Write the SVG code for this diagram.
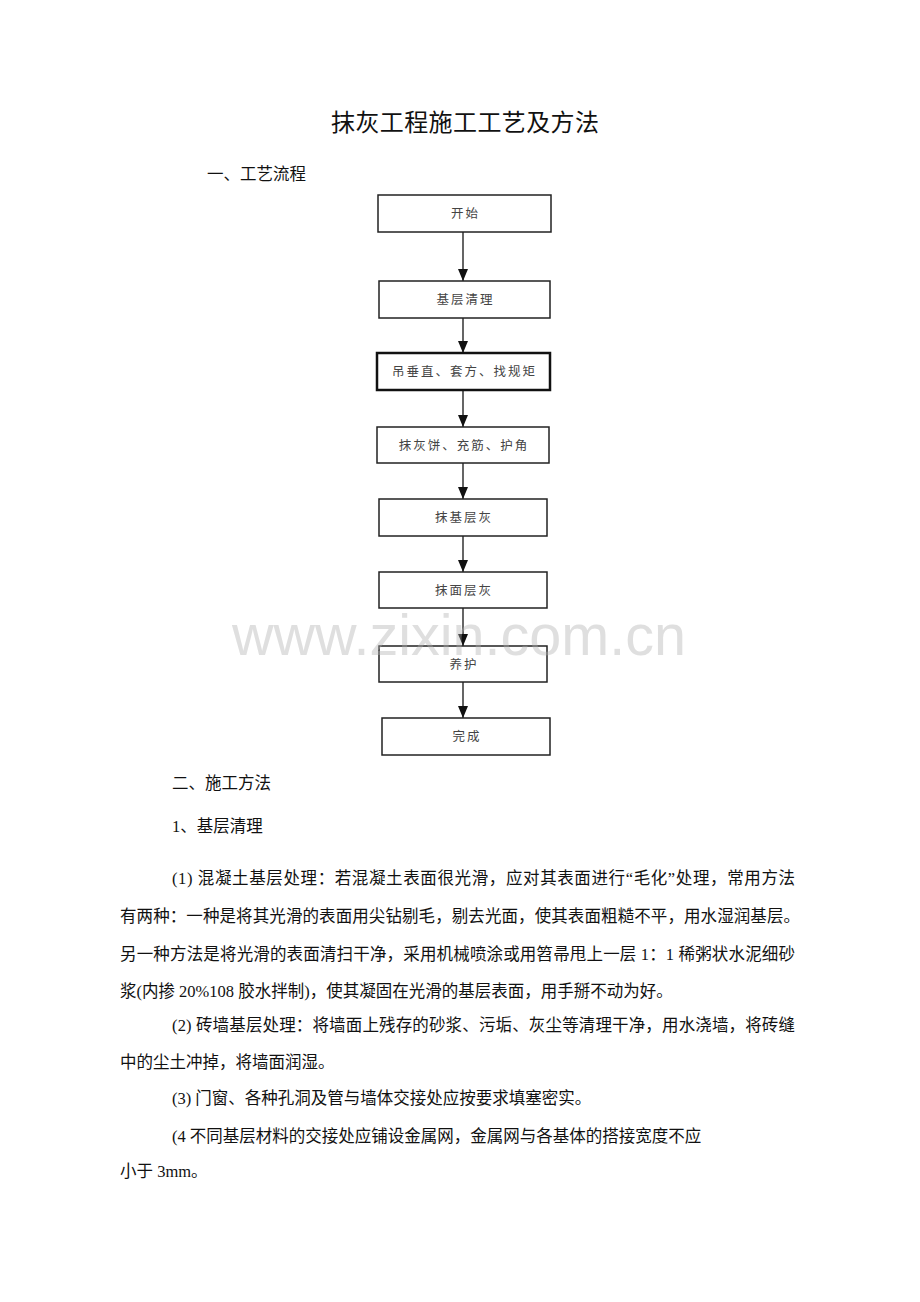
<svg xmlns="http://www.w3.org/2000/svg" width="920" height="1302" viewBox="0 0 920 1302">
<defs>
<style>
.title{font-family:"Liberation Serif","Noto Sans CJK SC",serif;font-size:24px;fill:#111;}
.body{font-family:"Liberation Serif","Noto Sans CJK SC",serif;font-size:16.5px;fill:#111;}
.box{fill:#fff;stroke:#222;stroke-width:1.5;}
.boxthick{fill:#fff;stroke:#111;stroke-width:2.5;}
.lbl{font-family:"Noto Sans CJK SC",sans-serif;font-size:12.5px;fill:#444;text-anchor:middle;letter-spacing:2px;}
.conn{stroke:#555;stroke-width:1.8;fill:none;}
.wm{font-family:"Liberation Sans",Arial,sans-serif;font-size:57px;fill:#b0b0b0;opacity:0.4;}
</style>
<marker id="ah" viewBox="0 0 12 10" refX="12" refY="5" markerWidth="12" markerHeight="10" markerUnits="userSpaceOnUse" orient="auto">
<path d="M0,0 L12,5 L0,10 Z" fill="#111"/>
</marker>
</defs>
<rect width="920" height="1302" fill="#fff"/>

<text class="title" x="465" y="131" text-anchor="middle" textLength="268">抹灰工程施工工艺及方法</text>
<text class="body" x="207" y="180">一、工艺流程</text>

<g id="connectors">
<line class="conn" x1="463" y1="232" x2="463" y2="281" marker-end="url(#ah)"/>
<line class="conn" x1="463" y1="318" x2="463" y2="353" marker-end="url(#ah)"/>
<line class="conn" x1="463" y1="390" x2="463" y2="427" marker-end="url(#ah)"/>
<line class="conn" x1="463" y1="463" x2="463" y2="499" marker-end="url(#ah)"/>
<line class="conn" x1="463" y1="536" x2="463" y2="572" marker-end="url(#ah)"/>
<line class="conn" x1="463" y1="608" x2="463" y2="646" marker-end="url(#ah)"/>
<line class="conn" x1="463" y1="682" x2="463" y2="718" marker-end="url(#ah)"/>
</g>

<g id="n1"><rect class="box" x="378" y="195" width="173" height="37"/><text class="lbl" x="465.5" y="218">开始</text></g>
<g id="n2"><rect class="box" x="379" y="281" width="171" height="37"/><text class="lbl" x="465.5" y="304">基层清理</text></g>
<g id="n3"><rect class="boxthick" x="377" y="353" width="173" height="37"/><text class="lbl" x="464.5" y="376">吊垂直、套方、找规矩</text></g>
<g id="n4"><rect class="box" x="377" y="427" width="172" height="36"/><text class="lbl" x="464" y="450">抹灰饼、充筋、护角</text></g>
<g id="n5"><rect class="box" x="379" y="499" width="168" height="37"/><text class="lbl" x="464" y="522">抹基层灰</text></g>
<g id="n6"><rect class="box" x="379" y="572" width="168" height="36"/><text class="lbl" x="464" y="595">抹面层灰</text></g>
<g id="n7"><rect class="box" x="379" y="646" width="168" height="36"/><text class="lbl" x="464" y="669">养护</text></g>
<g id="n8"><rect class="box" x="382" y="718" width="168" height="37"/><text class="lbl" x="467" y="741">完成</text></g>

<text class="body" x="172" y="789">二、施工方法</text>
<text class="body" x="172" y="832">1、基层清理</text>

<text class="body" x="172" y="884" textLength="623" lengthAdjust="spacing">(1)  混凝土基层处理：若混凝土表面很光滑，应对其表面进行“毛化”处理，常用方法</text>
<text class="body" x="120" y="922" textLength="680" lengthAdjust="spacing">有两种：一种是将其光滑的表面用尖钻剔毛，剔去光面，使其表面粗糙不平，用水湿润基层。</text>
<text class="body" x="120" y="960" textLength="675" lengthAdjust="spacing">另一种方法是将光滑的表面清扫干净，采用机械喷涂或用笤帚甩上一层 1：1 稀粥状水泥细砂</text>
<text class="body" x="120" y="997">浆(内掺 20%108 胶水拌制)，使其凝固在光滑的基层表面，用手掰不动为好。</text>

<text class="body" x="172" y="1031" textLength="623" lengthAdjust="spacing">(2)  砖墙基层处理：将墙面上残存的砂浆、污垢、灰尘等清理干净，用水浇墙，将砖缝</text>
<text class="body" x="120" y="1068">中的尘土冲掉，将墙面润湿。</text>
<text class="body" x="172" y="1104">(3) 门窗、各种孔洞及管与墙体交接处应按要求填塞密实。</text>
<text class="body" x="172" y="1142">(4 不同基层材料的交接处应铺设金属网，金属网与各基体的搭接宽度不应</text>
<text class="body" x="120" y="1177">小于 3mm。</text>

<text class="wm" x="232" y="655" textLength="454" lengthAdjust="spacingAndGlyphs">www.zixin.com.cn</text>
</svg>
